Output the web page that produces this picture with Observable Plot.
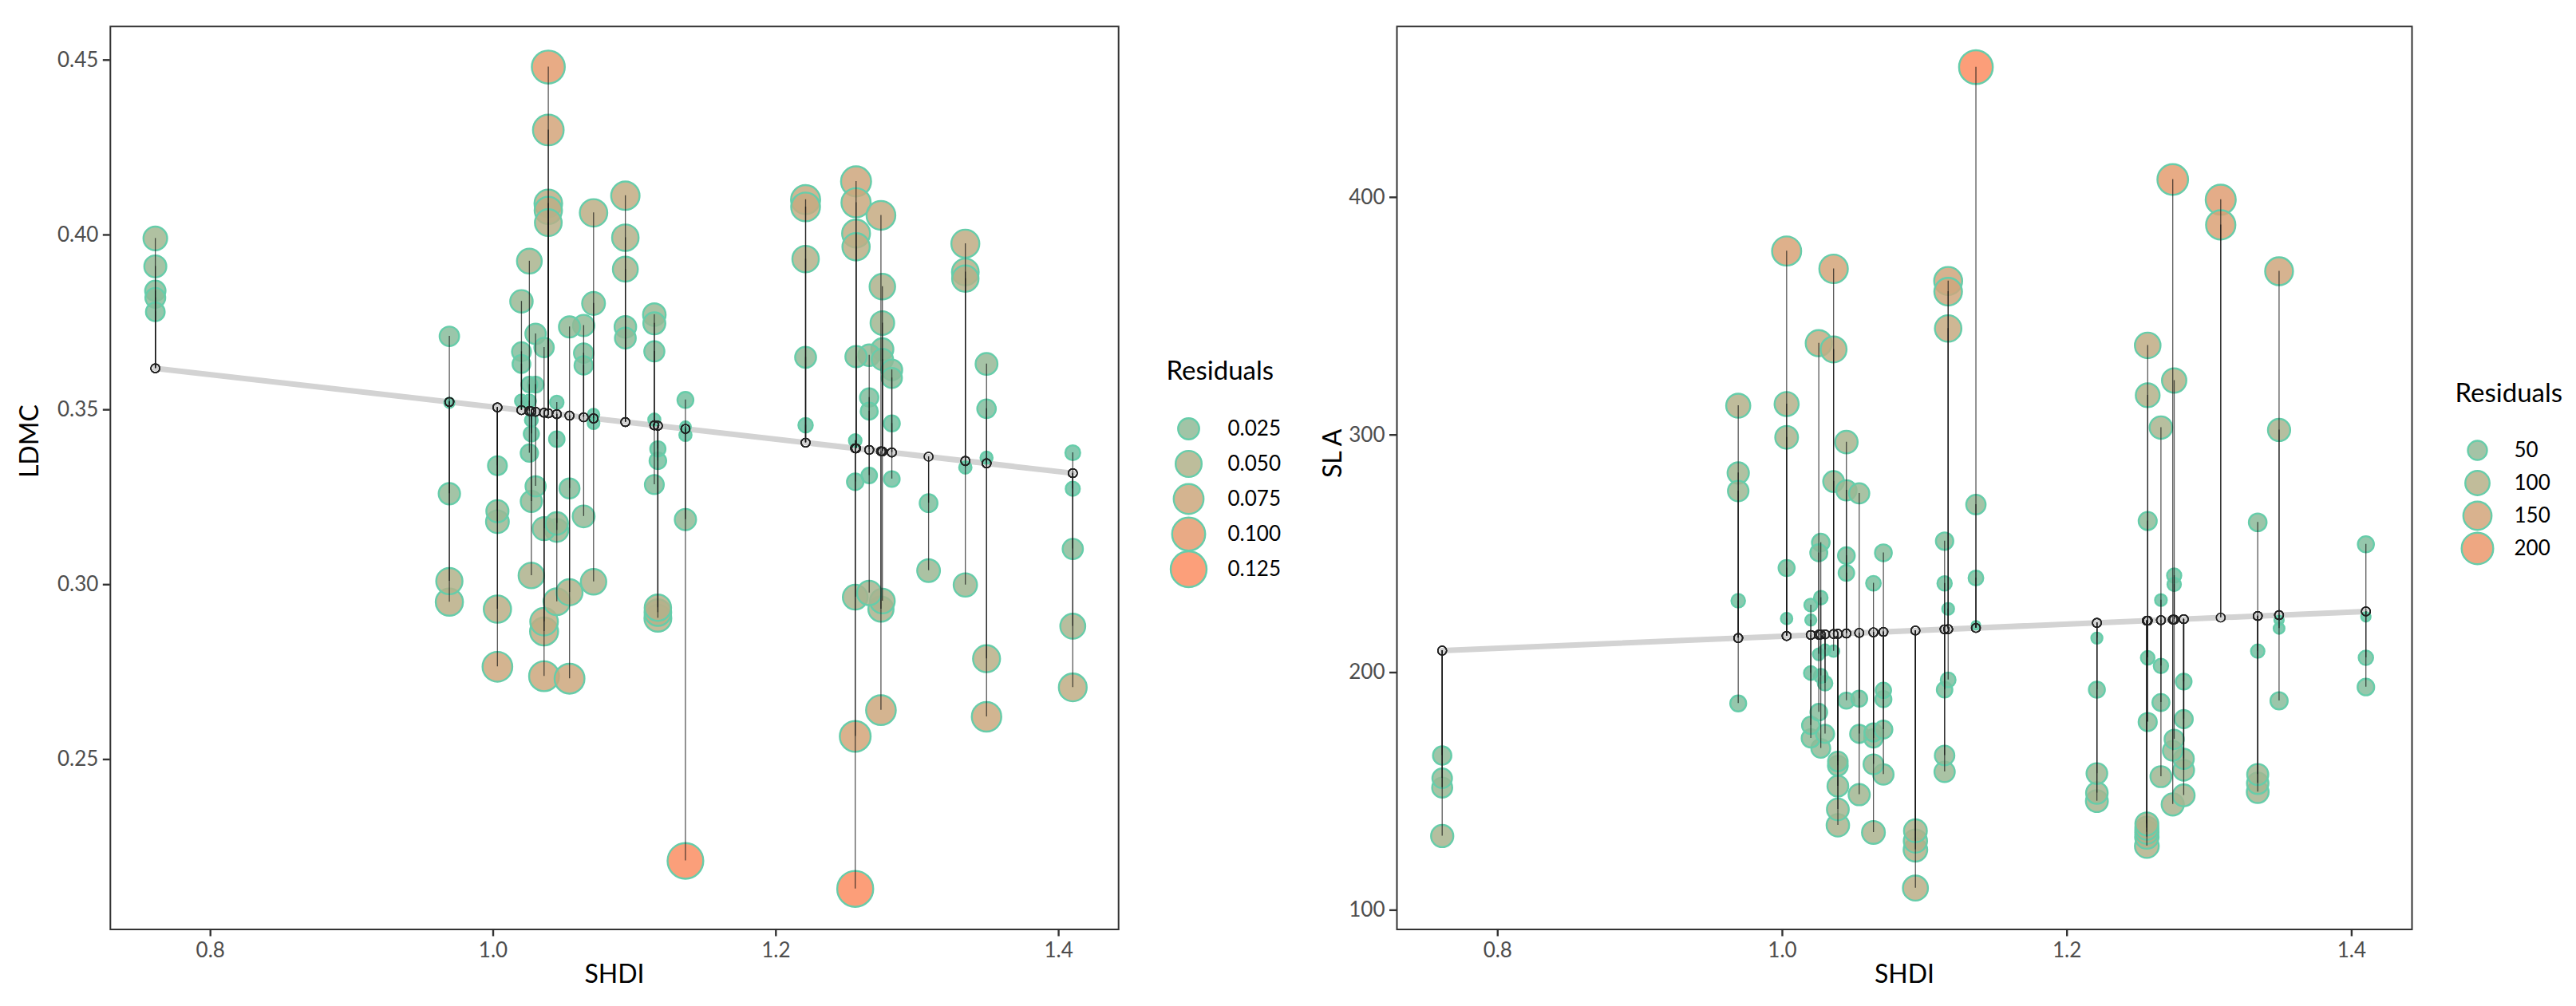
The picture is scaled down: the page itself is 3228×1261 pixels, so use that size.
<!DOCTYPE html>
<html><head><meta charset="utf-8">
<script src="https://cdn.jsdelivr.net/npm/d3@7"></script>
<script src="https://cdn.jsdelivr.net/npm/@observablehq/plot@0.6"></script>
<style>
html,body{margin:0;padding:0;background:#fff;}
#root{position:relative;width:3228px;height:1261px;font-family:Lato,sans-serif;overflow:hidden;}
.part{position:absolute;top:0;}
</style></head><body><div id="root"></div>
<script>
// ---- data ----
const shdi = [0.761, 0.969, 1.003, 1.020, 1.0256, 1.027, 1.030, 1.036, 1.039, 1.045, 1.054, 1.064, 1.071, 1.0935,
              1.114, 1.1165, 1.136, 1.221, 1.2561, 1.2567, 1.266, 1.2743, 1.2753, 1.282, 1.308, 1.334, 1.349, 1.410];

const ldmc = [
  [0.399, 0.391, 0.384, 0.382, 0.378],
  [0.371, 0.352, 0.326, 0.301, 0.295],
  [0.334, 0.321, 0.318, 0.293, 0.2765],
  [0.381, 0.3666, 0.3631, 0.3525],
  [0.3925, 0.3572, 0.3525, 0.3376],
  [0.347, 0.3431, 0.3238, 0.3026],
  [0.3717, 0.3572, 0.3281],
  [0.3678, 0.316, 0.2894, 0.2866, 0.2738],
  [0.448, 0.430, 0.409, 0.407, 0.4035],
  [0.3521, 0.3416, 0.3175, 0.3155, 0.2951],
  [0.3737, 0.3275, 0.2978, 0.2731],
  [0.3741, 0.3662, 0.3627, 0.3195],
  [0.4063, 0.3804, 0.3486, 0.3462, 0.3008],
  [0.4112, 0.3992, 0.3902, 0.3737, 0.3705],
  [0.3772, 0.3747, 0.3667, 0.3472, 0.3286],
  [0.3388, 0.3354, 0.2934, 0.292, 0.2904],
  [0.3528, 0.3451, 0.3428, 0.3186, 0.221],
  [0.4101, 0.408, 0.3931, 0.365, 0.3456],
  [0.3412, 0.3294, 0.2964, 0.2566, 0.213],
  [0.4153, 0.4092, 0.4004, 0.3966, 0.3652],
  [0.3656, 0.3535, 0.3496, 0.3312, 0.2976],
  [0.4056, 0.293, 0.2641],
  [0.3852, 0.3748, 0.3673, 0.3644, 0.2953],
  [0.3614, 0.3591, 0.3461, 0.3302],
  [0.3233, 0.304],
  [0.3975, 0.3894, 0.3875, 0.3335, 0.2999],
  [0.3631, 0.3503, 0.3363, 0.2788, 0.2622],
  [0.3377, 0.3274, 0.3102, 0.2881, 0.2706]
];

const sla = [
  [165.1, 155.5, 151.6, 131.2],
  [312.3, 284.0, 276.4, 230.2, 187.0],
  [377.4, 313.0, 299.0, 244.0, 222.7],
  [228.4, 222.1, 199.8, 177.8, 172.3],
  [338.6, 250.4, 207.7, 183.3],
  [254.7, 231.5, 198.6, 168.1],
  [209.5, 195.5, 174.2],
  [369.9, 336.0, 280.4, 209.0],
  [162.6, 160.8, 152.2, 142.4, 135.7],
  [297.0, 276.7, 249.2, 241.9, 188.2],
  [275.4, 189.0, 174.2, 148.6],
  [237.6, 174.8, 172.3, 161.4, 132.7],
  [250.4, 192.5, 188.8, 176.0, 157.1],
  [133.4, 129.1, 125.4, 109.3],
  [255.3, 237.5, 192.8, 165.1, 158.2],
  [364.8, 360.3, 344.8, 226.8, 196.9],
  [454.8, 270.7, 239.8, 219.9],
  [214.5, 192.8, 157.5, 149.3, 145.9],
  [136.3, 134.5, 132.8, 130.8, 127.0],
  [337.7, 316.7, 263.8, 206.2, 179.2],
  [303.1, 230.5, 202.8, 187.4, 156.2],
  [407.5, 167.1, 144.5],
  [322.9, 240.8, 237.1, 171.9],
  [196.2, 180.4, 163.7, 158.9, 148.3],
  [399.0, 388.4],
  [263.2, 209.0, 157.1, 153.4, 149.7],
  [368.9, 302.1, 222.0, 218.6, 188.1],
  [254.0, 223.4, 206.2, 193.9]
];

// regression lines (intercept, slope)
const ldmcFit = [0.397, -0.0462];
const slaFit  = [189.9, 25.4];

const ldmcTicks = [0.25, 0.30, 0.35, 0.40, 0.45];
const slaTicks  = [100, 200, 300, 400];
const xTicks    = [0.8, 1.0, 1.2, 1.4];
const ldmcLegend = [0.025, 0.05, 0.075, 0.1, 0.125];
const slaLegend  = [50, 100, 150, 200];

// ---- build ----
function buildRows(vals, coef) {
  const f = x => coef[0] + coef[1] * x;
  const rows = [];
  shdi.forEach((x, i) => vals[i].forEach(y => rows.push({x, y, fit: f(x), res: Math.abs(y - f(x))})));
  const ext = d3.extent(shdi);
  return {rows, line: ext.map(x => ({x, y: f(x)})), f};
}

const FILL_LO = "#66C2A5", FILL_HI = "#FC8D62", STROKE = "#66CDAA";
const H = 1261, MT = 32.7, MB = H - 1164.5;
const baseStyle = {fontFamily: "Lato, sans-serif", background: "transparent", maxWidth: "none", overflow: "visible"};

function panel(o) {
  const {rows, line} = o.data;
  return Plot.plot({
    width: o.width, height: H,
    marginLeft: o.ml, marginRight: o.mr, marginTop: MT, marginBottom: MB,
    style: baseStyle,
    x: {domain: [0.7292, 1.4424], axis: null},
    y: {domain: o.yDomain, axis: null},
    r: o.r, color: o.color,
    marks: [
      Plot.line(line, {x: "x", y: "y", stroke: "#d3d3d3", strokeWidth: 7}),
      Plot.dot(rows, {x: "x", y: "y", r: "res", fill: "res", fillOpacity: 0.85, stroke: STROKE, strokeWidth: 2.4}),
      Plot.ruleX(rows, {x: "x", y1: "fit", y2: "y", stroke: "#111", strokeOpacity: 0.7, strokeWidth: 1.3}),
      Plot.dot(rows, {x: "x", y: "fit", r: 5.5, stroke: "#222", strokeWidth: 1.4, fill: "none"}),
      Plot.frame({stroke: "#333", strokeWidth: 2}),
      Plot.axisX(xTicks, {tickFormat: d3.format(".1f"), tickSize: 9, tickPadding: 8, fontSize: 26, fill: "#4d4d4d", stroke: "#333", strokeWidth: 2.4, label: null}),
      Plot.axisY(o.yTicks, {tickFormat: o.yFmt, tickSize: 9, tickPadding: 6, fontSize: 26, fill: "#4d4d4d", stroke: "#333", strokeWidth: 2.4, label: null}),
      Plot.text(["SHDI"], {frameAnchor: "bottom", dy: 67, fontSize: 32, fill: "#000"}),
      Plot.text([o.yLabel], {frameAnchor: "left", dx: o.ylx, rotate: -90, fontSize: 32, fill: "#000"})
    ]
  });
}

function legend(o) {
  return Plot.plot({
    width: o.width, height: H, margin: 0,
    style: baseStyle,
    y: {type: "point", domain: o.vals, range: o.yRange, axis: null},
    r: o.r, color: o.color,
    marks: [
      Plot.text(["Residuals"], {frameAnchor: "top-left", dx: o.tx, dy: o.ty, textAnchor: "start", fontSize: 33, fill: "#000"}),
      Plot.dot(o.vals, {y: d => d, r: d => d, fill: d => d, fillOpacity: 0.85, stroke: STROKE, strokeWidth: 2.4, frameAnchor: "left", dx: o.cx}),
      Plot.text(o.vals, {y: d => d, text: o.fmt, frameAnchor: "left", dx: o.lx, textAnchor: "start", fontSize: 26, fill: "#000"})
    ]
  });
}

const L = buildRows(ldmc, ldmcFit);
const S = buildRows(sla, slaFit);

const rL = {type: "sqrt", domain: [0, 0.125], range: [5.7, 22.5]};
const cL = {type: "linear", domain: [0, d3.max(L.rows, d => d.res)], range: [FILL_LO, FILL_HI], interpolate: d3.interpolateLab};
const rS = {type: "sqrt", domain: [0, 200], range: [4.2, 19.8]};
const cS = {type: "linear", domain: [0, d3.max(S.rows, d => d.res)], range: [FILL_LO, FILL_HI], interpolate: d3.interpolateLab};

const root = document.getElementById("root");
function place(el, left) { const d = document.createElement("div"); d.className = "part"; d.style.left = left + "px"; d.appendChild(el); root.appendChild(d); }

place(panel({data: L, width: 1420, ml: 137.8, mr: 18.8, yDomain: [0.2014, 0.4596], yTicks: ldmcTicks, yFmt: d3.format(".2f"), yLabel: "LDMC", ylx: -101, r: rL, color: cL}), 0);
place(legend({width: 220, vals: ldmcLegend, yRange: [513, 737], r: rL, color: cL, tx: 41, ty: 452, cx: 69, lx: 118, fmt: d3.format(".3f")}), 1420);
place(panel({data: S, width: 1400, ml: 110, mr: 18, yDomain: [91.9, 471.9], yTicks: slaTicks, yFmt: d3.format("d"), yLabel: "SL A", ylx: -80, r: rS, color: cS}), 1640);
place(legend({width: 188, vals: slaLegend, yRange: [541.6, 709], r: rS, color: cS, tx: 36, ty: 480, cx: 64, lx: 110, fmt: d3.format("d")}), 3040);
</script></body></html>
